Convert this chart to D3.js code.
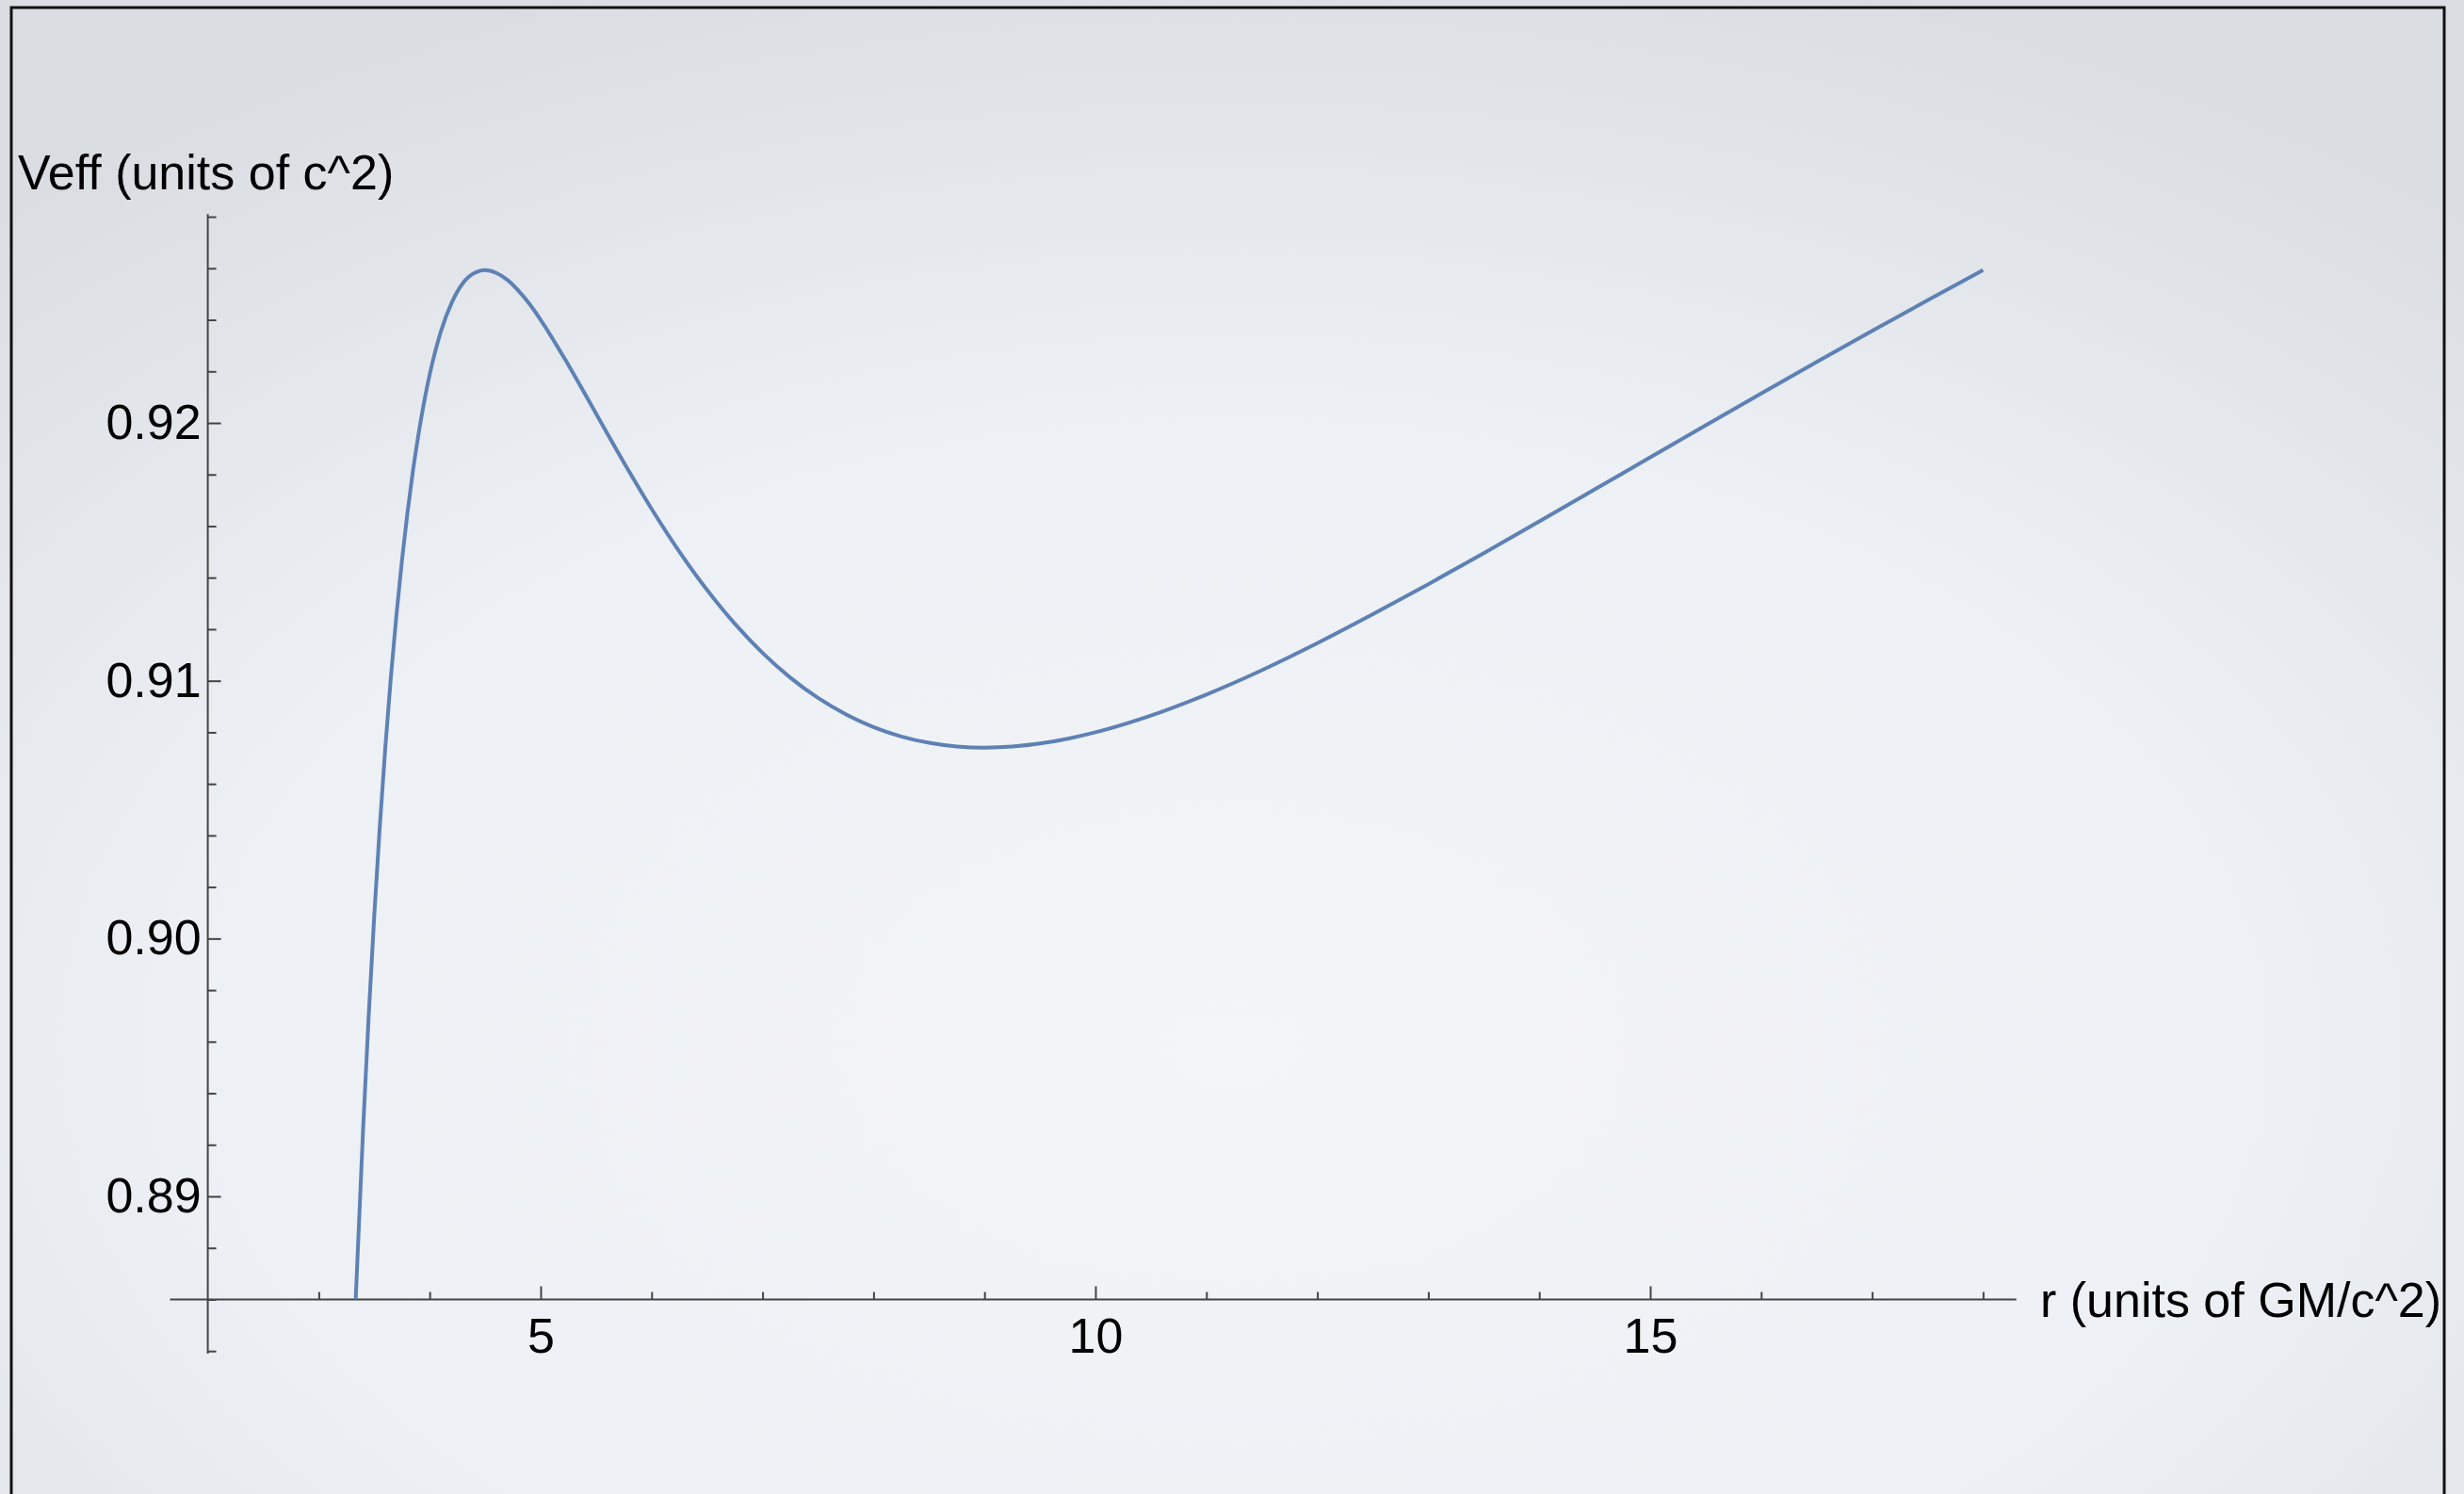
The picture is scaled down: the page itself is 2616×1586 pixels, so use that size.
<!DOCTYPE html>
<html>
<head>
<meta charset="utf-8">
<script src="https://cdn.jsdelivr.net/npm/d3@7"></script>
<style>
  html, body { margin: 0; padding: 0; background: #e4e7eb; }
  svg { display: block; }
  text { font-family: "Liberation Sans", Arial, Helvetica, sans-serif; fill: #000; }
</style>
</head>
<body>
<script>
// ---- Data ----
const rValues = [3.333, 3.4, 3.45, 3.5, 3.55, 3.6, 3.65, 3.7, 3.75, 3.8, 3.85, 3.9, 3.95, 4.0, 4.1, 4.2, 4.3, 4.4, 4.5, 4.6, 4.7, 4.8, 4.9, 5.0, 5.25, 5.5, 5.75, 6.0, 6.25, 6.5, 6.75, 7.0, 7.25, 7.5, 7.75, 8.0, 8.25, 8.5, 8.75, 9.0, 9.25, 9.5, 9.75, 10, 10.5, 11, 11.5, 12, 12.5, 13, 13.5, 14, 14.5, 15, 15.5, 16, 16.5, 17, 17.5, 18];
const veffValues = [0.88600, 0.89263, 0.89699, 0.90087, 0.90433, 0.90741, 0.91013, 0.91254, 0.91467, 0.91653, 0.91817, 0.91959, 0.92082, 0.921875, 0.923535, 0.92468, 0.925428, 0.92581, 0.925926, 0.92582, 0.92555, 0.92513, 0.92461, 0.924, 0.92225, 0.92036, 0.918468, 0.916667, 0.91501, 0.91352, 0.91221, 0.91108, 0.91012, 0.909333, 0.90870, 0.908203, 0.907839, 0.907592, 0.907452, 0.907407, 0.907449, 0.907566, 0.907753, 0.908, 0.90865, 0.909466, 0.91041, 0.911458, 0.91258, 0.913746, 0.914952, 0.916181, 0.917422, 0.918667, 0.919908, 0.921143, 0.922365, 0.923570, 0.924758, 0.925926];
const xMajorTicks = [5, 10, 15];
const xMinorTicks = [3, 4, 6, 7, 8, 9, 11, 12, 13, 14, 16, 17, 18];
const yMajorTicks = [0.89, 0.90, 0.91, 0.92];
const yMinorTicks = [0.884, 0.886, 0.888, 0.892, 0.894, 0.896, 0.898, 0.902, 0.904, 0.906, 0.908, 0.912, 0.914, 0.916, 0.918, 0.922, 0.924, 0.926, 0.928];
const xTickLabels = ["5", "10", "15"];
const yTickLabels = ["0.89", "0.90", "0.91", "0.92"];
const yAxisTitle = "Veff (units of c^2)";
const xAxisTitle = "r (units of GM/c^2)";

const W = 2616, H = 1586;
const svg = d3.select("body").append("svg").attr("width", W).attr("height", H);

// background
const defs = svg.append("defs");
const grad = defs.append("radialGradient").attr("id", "bg")
  .attr("cx", "50%").attr("cy", "70%").attr("r", "75%");
grad.append("stop").attr("offset", "0%").attr("stop-color", "#f3f5f8");
grad.append("stop").attr("offset", "55%").attr("stop-color", "#edf0f4");
grad.append("stop").attr("offset", "100%").attr("stop-color", "#dadee3");
svg.append("rect").attr("width", W).attr("height", H).attr("fill", "url(#bg)");

// frame
svg.append("rect").attr("x", 12).attr("y", 8).attr("width", 2583).attr("height", 1620)
  .attr("fill", "none").attr("stroke", "#111").attr("stroke-width", 3);

// scales
const x = d3.scaleLinear().domain([2, 18]).range([220.6, 2105.4]);
const y = d3.scaleLinear().domain([0.886, 0.92]).range([1379.5, 449]);

const axisColor = "#444";
const originY = y(0.886), originX = x(2);

// clip to plot region so the curve stops at the x axis
defs.append("clipPath").attr("id", "plotClip").append("rect")
  .attr("x", x(1.66)).attr("y", y(0.9285)).attr("width", x(18.3) - x(1.66))
  .attr("height", originY - y(0.9285));

// x axis line
svg.append("line").attr("x1", x(1.66)).attr("x2", x(18.3))
  .attr("y1", originY).attr("y2", originY)
  .attr("stroke", axisColor).attr("stroke-width", 2);
// y axis line
svg.append("line").attr("x1", originX).attr("x2", originX)
  .attr("y1", y(0.8839)).attr("y2", y(0.9281))
  .attr("stroke", axisColor).attr("stroke-width", 2);

// x ticks (major with labels)
const gx = svg.append("g").attr("transform", `translate(0,${originY})`)
  .call(d3.axisBottom(x).tickValues(xMajorTicks).tickSize(-14).tickPadding(20)
    .tickFormat((d, i) => xTickLabels[i]));
const gxm = svg.append("g").attr("transform", `translate(0,${originY})`)
  .call(d3.axisBottom(x).tickValues(xMinorTicks).tickSize(-8).tickFormat(""));
// y ticks
const gy = svg.append("g").attr("transform", `translate(${originX},0)`)
  .call(d3.axisLeft(y).tickValues(yMajorTicks).tickSize(-14).tickPadding(7)
    .tickFormat((d, i) => yTickLabels[i]));
const gym = svg.append("g").attr("transform", `translate(${originX},0)`)
  .call(d3.axisLeft(y).tickValues(yMinorTicks).tickSize(-9).tickFormat(""));

[gx, gxm, gy, gym].forEach(g => {
  g.select(".domain").remove();
  g.selectAll(".tick line").attr("stroke", axisColor).attr("stroke-width", 2);
  g.selectAll(".tick text").attr("font-size", 52).attr("fill", "#000")
    .attr("font-family", "'Liberation Sans', Arial, Helvetica, sans-serif");
});

// axis titles
svg.append("text").attr("x", 19).attr("y", 201).attr("font-size", 52)
  .text(yAxisTitle);
svg.append("text").attr("x", 2166).attr("y", originY).attr("dy", "0.35em")
  .attr("font-size", 52).text(xAxisTitle);

// curve
const pts = rValues.map((r, i) => [r, veffValues[i]]);
const line = d3.line().x(d => x(d[0])).y(d => y(d[1])).curve(d3.curveMonotoneX);
svg.append("path").datum(pts).attr("d", line).attr("clip-path", "url(#plotClip)")
  .attr("fill", "none").attr("stroke", "#5e81b5").attr("stroke-width", 4)
  .attr("stroke-linejoin", "round");
</script>
</body>
</html>
